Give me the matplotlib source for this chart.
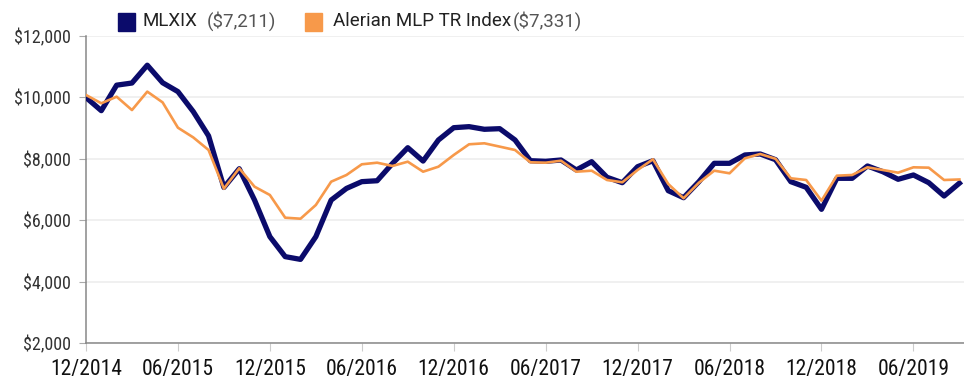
import numpy as np
import matplotlib
matplotlib.use("Agg")
from matplotlib import pyplot as plt
from matplotlib import font_manager as fm
from matplotlib.patches import Rectangle
from matplotlib.ticker import FuncFormatter

# growth of $10,000, month-end values 12/2014 .. 09/2019
mlxix = [10000, 9570, 10400, 10470, 11050, 10480, 10190, 9540, 8750, 7070,
         7680, 6660, 5470, 4820, 4730, 5470, 6660, 7040, 7260, 7290,
         7850, 8365, 7930, 8616, 9016, 9050, 8964, 8984, 8616, 7942,
         7922, 7965, 7640, 7910, 7402, 7226, 7747, 7942, 6966, 6738,
         7259, 7857, 7857, 8128, 8160, 7975, 7259, 7076, 6360, 7369,
         7369, 7770, 7584, 7337, 7477, 7226, 6793, 7211]
alerian = [10080, 9810, 10025, 9590, 10190, 9840, 9016, 8700, 8290, 7030,
           7695, 7096, 6826, 6087, 6054, 6500, 7259, 7477, 7825, 7877,
           7770, 7910, 7584, 7747, 8128, 8476, 8508, 8400, 8290, 7890,
           7877, 7942, 7584, 7617, 7314, 7239, 7640, 7988, 7184, 6719,
           7226, 7617, 7532, 8020, 8160, 8005, 7369, 7314, 6640, 7454,
           7477, 7727, 7640, 7552, 7727, 7715, 7314, 7331]
tick_labels = ["12/2014", "06/2015", "12/2015", "06/2016", "12/2016",
               "06/2017", "12/2017", "06/2018", "12/2018", "06/2019"]

navy = "#0b0b6b"
orange = "#f7994a"

# narrow face for the axis labels if one is around
names = {f.name for f in fm.fontManager.ttflist}
narrow = None
for cand in ["Roboto Condensed", "Liberation Sans Narrow", "DejaVu Sans Condensed"]:
    if cand in names:
        narrow = cand
        break
if narrow:
    tick_font = [narrow, "DejaVu Sans"]
    ysize, xsize = 13, 15.5
else:
    tick_font = ["Roboto", "DejaVu Sans"]
    ysize, xsize = 11.5, 12.5

plt.rcParams['font.family'] = ["Roboto", "DejaVu Sans"]

fig = plt.figure(figsize=(9.64, 3.81), dpi=100)
ax = fig.add_axes([0.0892, 0.099, 0.9108, 0.8065])

x = np.arange(len(mlxix))
ax.plot(x, mlxix, color=navy, lw=3.8, zorder=3)
ax.plot(x, alerian, color=orange, lw=1.9, zorder=4)

ax.set_xlim(0, 57.3)
ax.set_ylim(2000, 12000)
ax.set_yticks(np.arange(2000, 12001, 2000))
ax.yaxis.set_major_formatter(FuncFormatter(lambda v, p: "${:,.0f}".format(v)))
ax.set_xticks(np.arange(0, 57, 6))
ax.set_xticklabels(tick_labels)
for lab in ax.get_xticklabels() + ax.get_yticklabels():
    lab.set_family(tick_font)

ax.grid(axis="y", color="#eeeeee", lw=1.2, zorder=0)
for s in ["top", "right"]:
    ax.spines[s].set_visible(False)
ax.spines["left"].set_color("#888888")
ax.spines["bottom"].set_color("#888888")
ax.spines["left"].set_linewidth(1.1)
ax.spines["bottom"].set_linewidth(1.1)
ax.tick_params(axis="y", length=5, color="#aaaaaa", labelsize=ysize, labelcolor="#333333", pad=6)
ax.tick_params(axis="x", length=6, color="#cccccc", labelsize=xsize, labelcolor="#111111", pad=5)

# legend drawn by hand: name in dark, ending value in grey
fig.patches.append(Rectangle((118 / 964, 1 - 31 / 381), 17 / 964, 18 / 381,
                             transform=fig.transFigure, color=navy))
fig.text(143 / 964, 1 - 21 / 381, "MLXIX", fontsize=13.5, color="#222222", va="center")
fig.text(207 / 964, 1 - 21 / 381, "($7,211)", fontsize=13.5, color="#555555", va="center")
fig.patches.append(Rectangle((305 / 964, 1 - 31 / 381), 17 / 964, 18 / 381,
                             transform=fig.transFigure, color=orange))
fig.text(333 / 964, 1 - 21 / 381, "Alerian MLP TR Index", fontsize=13.5, color="#222222", va="center")
fig.text(513 / 964, 1 - 21 / 381, "($7,331)", fontsize=13.5, color="#555555", va="center")

fig.savefig("out.png", dpi=100)
